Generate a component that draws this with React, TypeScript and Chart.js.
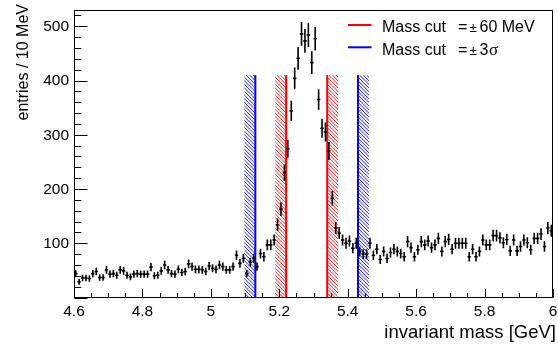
import React, { useEffect, useRef } from "react";
import { Chart, registerables } from "chart.js";

Chart.register(...registerables);

// ---- data ----
const X_MIN = 4.6;
const X_MAX = 6.0;
const BIN_WIDTH = 0.01;
const Y_MIN = 0;
const Y_MAX = 530;

// entries per 10 MeV bin, 4.60 .. 6.00 GeV (140 bins)
const entries = [
  44, 29, 36, 36, 35, 44, 48, 37, 37, 51,
  43, 44, 41, 51, 49, 41, 38, 43, 44, 43,
  43, 43, 56, 40, 41, 49, 60, 51, 44, 43,
  52, 46, 48, 62, 57, 52, 52, 51, 48, 58,
  54, 52, 60, 57, 51, 51, 57, 78, 63, 72,
  44, 65, 72, 57, 81, 75, 97, 97, 106, 134,
  163, 230, 274, 344, 404, 441, 486, 473, 484, 433,
  477, 365, 312, 305, 270, 183, 128, 119, 106, 100,
  104, 91, 100, 85, 80, 80, 100, 78, 89, 70,
  85, 72, 83, 89, 85, 81, 75, 103, 92, 75,
  88, 103, 97, 104, 92, 97, 109, 85, 103, 107,
  89, 100, 100, 100, 100, 75, 89, 75, 85, 106,
  97, 97, 114, 114, 110, 101, 107, 86, 106, 86,
  94, 106, 101, 88, 109, 109, 117, 94, 128, 123,
];

const xTickValues = [4.6, 4.8, 5.0, 5.2, 5.4, 5.6, 5.8, 6.0];
const xTickLabels = ["4.6", "4.8", "5", "5.2", "5.4", "5.6", "5.8", "6"];
const xMinorStep = 0.05;
const yTickValues = [100, 200, 300, 400, 500];
const yTickLabels = ["100", "200", "300", "400", "500"];
const yMinorStep = 20;

const xTitle = "invariant mass [GeV]";
const yTitle = "entries / 10 MeV";

// mass cut windows
const cut60MeV = [5.22, 5.34];
const cut3Sigma = [5.13, 5.43];
const cutHatchWidth = 0.032;
const cutLineTop = 410;

const legendEntries = [
  { color: "#ff0000", value: "60 MeV", sigma: false },
  { color: "#0000ff", value: "3", sigma: true },
];

const FONT = '"Liberation Sans", Arial, Helvetica, sans-serif';
const SERIF = '"Liberation Serif", "Times New Roman", serif';

function drawCut(ctx: any, xs: any, ys: any, edge: number, dir: number, color: string) {
  const xEdge = xs.getPixelForValue(edge);
  const xOut = xs.getPixelForValue(edge + dir * cutHatchWidth);
  const yBot = ys.getPixelForValue(0);
  const yTop = ys.getPixelForValue(cutLineTop);
  const left = Math.min(xEdge, xOut);
  const right = Math.max(xEdge, xOut);
  const h = yBot - yTop;
  ctx.save();
  ctx.beginPath();
  ctx.rect(left, yTop, right - left, h);
  ctx.clip();
  ctx.strokeStyle = color;
  ctx.lineWidth = 0.9;
  const step = 3.6;
  ctx.beginPath();
  for (let k = -h - 10; k < right - left + 10; k += step) {
    ctx.moveTo(left + k, yTop);
    ctx.lineTo(left + k + h, yTop + h);
  }
  ctx.stroke();
  ctx.restore();
  ctx.save();
  ctx.strokeStyle = color;
  ctx.lineWidth = 2;
  ctx.beginPath();
  ctx.moveTo(xEdge, yBot);
  ctx.lineTo(xEdge, yTop);
  ctx.stroke();
  ctx.restore();
}

const rootStyle = {
  id: "rootStyle",
  beforeDatasetsDraw(chart: any) {
    const { ctx, scales } = chart;
    const xs = scales.x;
    const ys = scales.y;
    drawCut(ctx, xs, ys, cut3Sigma[0], -1, "#0000ff");
    drawCut(ctx, xs, ys, cut3Sigma[1], 1, "#0000ff");
    drawCut(ctx, xs, ys, cut60MeV[0], -1, "#ff0000");
    drawCut(ctx, xs, ys, cut60MeV[1], 1, "#ff0000");
  },
  afterDatasetsDraw(chart: any) {
    const { ctx, scales } = chart;
    const xs = scales.x;
    const ys = scales.y;
    const meta = chart.getDatasetMeta(0);
    ctx.save();
    ctx.strokeStyle = "#000";
    ctx.lineWidth = 1.6;
    meta.data.forEach((pt: any, i: number) => {
      const v = entries[i];
      const err = Math.sqrt(v);
      const cx = pt.x;
      const cy = pt.y;
      const c = X_MIN + (i + 0.5) * BIN_WIDTH;
      ctx.beginPath();
      ctx.moveTo(cx, ys.getPixelForValue(v - err));
      ctx.lineTo(cx, ys.getPixelForValue(v + err));
      ctx.moveTo(xs.getPixelForValue(c - BIN_WIDTH / 2), cy);
      ctx.lineTo(xs.getPixelForValue(c + BIN_WIDTH / 2), cy);
      ctx.stroke();
    });
    ctx.restore();
  },
  afterDraw(chart: any) {
    const { ctx, chartArea: a, scales } = chart;
    const xs = scales.x;
    const ys = scales.y;
    ctx.save();
    // frame
    ctx.strokeStyle = "#000";
    ctx.lineWidth = 1;
    ctx.strokeRect(Math.round(a.left) + 0.5, Math.round(a.top) + 0.5,
      Math.round(a.right - a.left) - 1, Math.round(a.bottom - a.top) - 1);
    const xb = Math.round(a.bottom) - 0.5;
    const yl = Math.round(a.left) + 0.5;
    // x ticks
    ctx.beginPath();
    const nx = Math.round((X_MAX - X_MIN) / xMinorStep);
    for (let k = 0; k <= nx; k++) {
      const v = X_MIN + k * xMinorStep;
      const px = Math.round(xs.getPixelForValue(v)) + 0.5;
      const major = k % 4 === 0;
      ctx.moveTo(px, xb);
      ctx.lineTo(px, xb - (major ? 8.5 : 4.5));
    }
    // y ticks
    const ny = Math.floor((Y_MAX - Y_MIN) / yMinorStep);
    for (let k = 0; k <= ny; k++) {
      const v = Y_MIN + k * yMinorStep;
      const py = Math.round(ys.getPixelForValue(v)) + 0.5;
      const major = v % 100 === 0;
      ctx.moveTo(yl, py);
      ctx.lineTo(yl + (major ? 13 : 6.7), py);
    }
    ctx.stroke();
    // tick labels
    ctx.fillStyle = "#000";
    ctx.font = `15.5px ${FONT}`;
    ctx.textAlign = "center";
    ctx.textBaseline = "alphabetic";
    xTickValues.forEach((v, i) => {
      ctx.fillText(xTickLabels[i], xs.getPixelForValue(v), 315.5);
    });
    ctx.textAlign = "right";
    ctx.textBaseline = "middle";
    yTickValues.forEach((v, i) => {
      ctx.fillText(yTickLabels[i], 69, ys.getPixelForValue(v) + 0.5);
    });
    // titles
    ctx.font = `18.5px ${FONT}`;
    ctx.textAlign = "right";
    ctx.textBaseline = "alphabetic";
    ctx.fillText(xTitle, 556, 338);
    ctx.save();
    ctx.translate(28, 4);
    ctx.rotate(-Math.PI / 2);
    ctx.font = `16px ${FONT}`;
    ctx.textAlign = "right";
    ctx.fillText(yTitle, 0, 0);
    ctx.restore();
    // legend
    legendEntries.forEach((e, i) => {
      const ly = 25 + i * 22.3;
      const base = 31.5 + i * 23.5;
      ctx.strokeStyle = e.color;
      ctx.lineWidth = 2;
      ctx.beginPath();
      ctx.moveTo(348, ly);
      ctx.lineTo(371.5, ly);
      ctx.stroke();
      ctx.fillStyle = "#000";
      ctx.font = `16px ${FONT}`;
      ctx.textAlign = "left";
      ctx.textBaseline = "alphabetic";
      ctx.fillText("Mass cut", 382, base);
      ctx.fillText("=", 458, base);
      ctx.font = `13.5px ${FONT}`;
      ctx.fillText("\u00b1", 469.5, base);
      ctx.font = `16px ${FONT}`;
      ctx.fillText(e.value, 479.5, base);
      if (e.sigma) {
        const w = ctx.measureText(e.value).width;
        ctx.font = `17px ${SERIF}`;
        ctx.fillText("\u03c3", 479.5 + w + 0.5, base);
      }
    });
    ctx.restore();
  },
};

export default function App() {
  const ref = useRef<HTMLCanvasElement | null>(null);
  useEffect(() => {
    if (!ref.current) return;
    const points = entries.map((v, i) => ({ x: X_MIN + (i + 0.5) * BIN_WIDTH, y: v }));
    const chart = new Chart(ref.current, {
      type: "scatter",
      data: {
        datasets: [
          {
            data: points,
            pointRadius: 0,
            pointHoverRadius: 0,
            showLine: false,
          },
        ],
      },
      options: {
        animation: false,
        responsive: false,
        devicePixelRatio: 1,
        events: [],
        layout: { padding: { left: 74, right: 5, top: 10, bottom: 50.5 } },
        scales: {
          x: { type: "linear", min: X_MIN, max: X_MAX, display: false },
          y: { type: "linear", min: Y_MIN, max: Y_MAX, display: false },
        },
        plugins: { legend: { display: false }, tooltip: { enabled: false } },
      },
      plugins: [rootStyle],
    } as any);
    return () => chart.destroy();
  }, []);
  return (
    <div style={{ position: "fixed", left: 0, top: 0, width: 558, height: 348, background: "#fff" }}>
      <canvas ref={ref} width={558} height={348} style={{ display: "block" }} />
    </div>
  );
}
